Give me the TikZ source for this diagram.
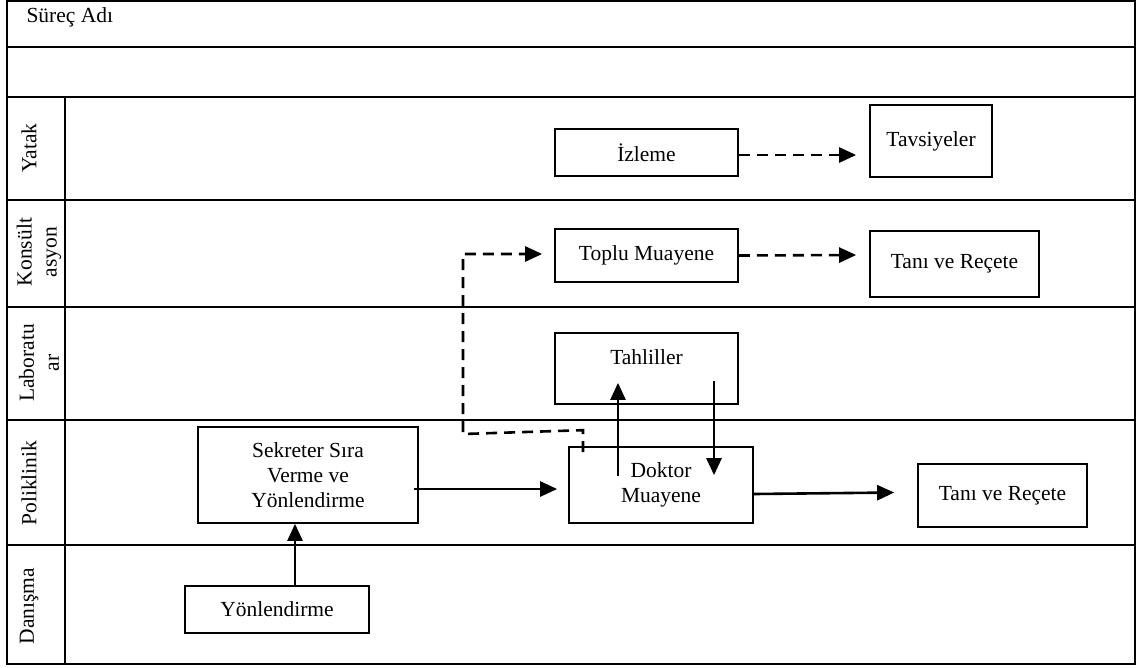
\documentclass[tikz,border=0pt]{standalone}
\usepackage{fontspec}
\setmainfont{Liberation Serif}
\usetikzlibrary{arrows.meta,calc}
\begin{document}
\begin{tikzpicture}[x=1pt,y=-1pt,
  frame/.style={line width=2.6pt},
  box/.style={draw,line width=1.7pt,rectangle,inner sep=0pt,align=center},
  flow/.style={line width=2.6pt,-{Triangle[length=17pt,width=15pt]}},
  dflow/.style={flow,dash pattern=on 11pt off 7pt},
  lanelabel/.style={rotate=90,align=center},
  every node/.style={font=\fontsize{21.5}{25}\selectfont}]
\useasboundingbox (0,0) rectangle (1139,667);

% swimlane grid
\draw[frame] (7,1) rectangle (1135,664);
\foreach \y in {47,97,200,307,420,545}
  \draw[frame] (7,\y) -- (1135,\y);
\draw[frame] (65,97) -- (65,664);

% header and lane titles
\node[anchor=base west] (title) at (23,22) {Süreç Adı};
\node[lanelabel] (lYatak) at (29,148) {Yatak};
\node[lanelabel] (lKons) at (39,252) {Konsült\\asyon};
\node[lanelabel] (lLab) at (39,363) {Laboratu\\ar};
\node[lanelabel] (lPol) at (29,483) {Poliklinik};
\node[lanelabel] (lDan) at (29,606) {Danışma};

% process steps
\node[box,minimum width=183pt,minimum height=47pt] (izl) at (646.5,152.5) {İzleme};
\node[box,minimum width=122pt,minimum height=72pt] (tav) at (931,141) {Tavsiyeler};
\node[box,minimum width=183pt,minimum height=53pt] (top) at (646.5,255.5) {Toplu Muayene};
\node[box,minimum width=169pt,minimum height=66pt] (tan1) at (954.5,264) {Tanı ve Reçete};
\node[box,minimum width=183pt,minimum height=71pt,
      label={[yshift=11pt]center:Tahliller}] (tah) at (646.5,368.5) {};
\node[box,minimum width=184pt,minimum height=76pt] (doc) at (661,485) {Doktor\\Muayene};
\node[box,minimum width=169pt,minimum height=63pt] (tan2) at (1002.5,495.5) {Tanı ve Reçete};
\node[box,minimum width=220pt,minimum height=96pt] (sek) at (308,475) {Sekreter Sıra\\Verme ve\\Yönlendirme};
\node[box,minimum width=184pt,minimum height=47pt] (yon) at (277,609.5) {Yönlendirme};

% solid flows
\draw[flow] ($(yon.north)+(18,0)$) -- ($(sek.south)+(-13,0)$);
\draw[flow] ($(sek.east)+(-5,14)$) -- ($(doc.west)+(-11,4)$);
\draw[flow] ($(doc.north)+(-43,30)$) -- ($(tah.south)+(-28.5,-22)$);
\draw[flow] ($(tah.south)+(67.5,-24)$) -- ($(doc.north)+(53,29)$);
\draw[flow] ($(doc.east)+(0,9)$) -- ($(tan2.west)+(-23,-3)$);

% dashed flows
\draw[dflow] ($(izl.east)+(0,2.5)$) -- ($(tav.west)+(-13,14)$);
\draw[dflow] (top.east) -- ($(tan1.west)+(-13,-9)$);
\coordinate (d0) at ($(doc.north)+(-78,6)$);
\coordinate (d1) at ($(doc.north)+(-78,-16)$);
\coordinate (d2) at (463,434);
\coordinate (d3) at (463,254);
\draw[dflow] (d0) -- (d1) -- (d2) -- (d3) -- ($(top.west)+(-12,-1.5)$);
\end{tikzpicture}
\end{document}
